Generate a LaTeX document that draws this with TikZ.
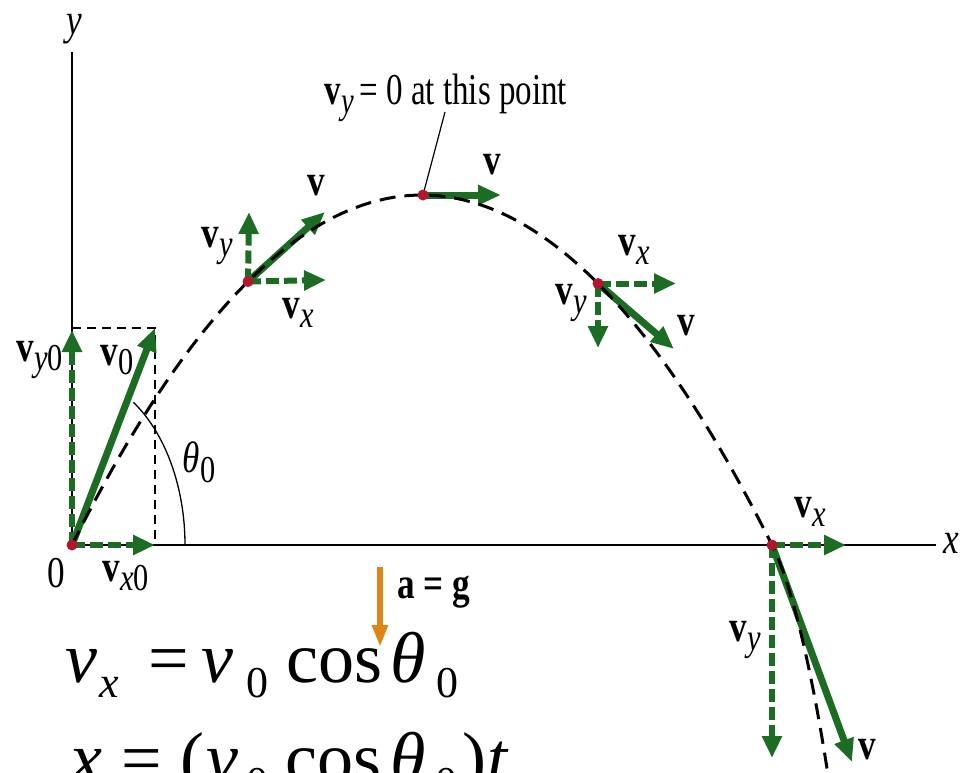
\documentclass[tikz,border=0pt]{standalone}
\usepackage{fontspec}
\setmainfont{Liberation Serif}
\usepackage{graphicx}
\usetikzlibrary{arrows.meta}
\definecolor{vgreen}{RGB}{28,108,36}
\definecolor{dotred}{RGB}{180,22,45}
\definecolor{agold}{RGB}{222,133,22}
\newcommand\labfont{\fontsize{44}{44}\selectfont}
\newcommand\eqfont{\fontsize{72}{72}\selectfont}
\newcommand\eqsub{\fontsize{44}{44}\selectfont}
\newcommand\cnd[1]{\scalebox{0.8}[1]{#1}}
\newcommand\vb{\textbf{v}}
\newcommand\sbx[1]{\raisebox{-0.22em}{\fontsize{38}{38}\selectfont #1}}
\tikzset{
  lab/.style={font=\labfont, inner sep=0pt},
  eq/.style={font=\eqfont, inner sep=0pt, anchor=base west},
  eqs/.style={font=\eqsub, inner sep=0pt, anchor=base west},
  axisline/.style={line width=2pt, black},
  vsolid/.style={vgreen, line width=7pt, -{Triangle[length=23pt,width=19pt]}},
  vdash/.style={vgreen, line width=6pt, dash pattern=on 13pt off 5pt, -{Triangle[length=22pt,width=19pt]}},
  traj/.style={black, line width=3pt, dash pattern=on 16pt off 9pt},
  guide/.style={black, line width=1.6pt, dash pattern=on 9pt off 6pt},
  dotp/.style={fill=dotred},
}
\begin{document}
\begin{tikzpicture}[x=1pt,y=-1pt]
\useasboundingbox (0,0) rectangle (966,772);
\clip (0,0) rectangle (966,772);
% key points
\coordinate (O) at (72,545);
\coordinate (ytop) at (72,52);
\coordinate (xend) at (936,545);
\coordinate (P2) at (248,281.5);
\coordinate (P3) at (423,195);
\coordinate (P4) at (598,283.5);
\coordinate (P5) at (772,545);
\coordinate (Q) at (828,775);
% axes
\draw[axisline] (O) -- (ytop);
\draw[axisline] (O) -- (xend);
\node[lab] (ylab) at (74,29) {\cnd{\itshape y}};
\node[lab] (xlab) at (951,543) {\cnd{\itshape x}};
\node[lab] (olab) at (56,573) {\cnd{0}};
% initial velocity construction
\coordinate (v0tip) at (155,328);
\coordinate (vy0tip) at (72,330);
\coordinate (vx0tip) at (155,545);
\coordinate (rc) at (72,328);
\draw[guide] (rc) -- (v0tip) -- (vx0tip);
\draw[black, line width=1.3pt] (185,545) arc[start angle=0, end angle=57, x radius=113pt, y radius=170pt];
\draw[vdash] (O) -- (vy0tip);
\draw[vdash] (O) -- (vx0tip);
\draw[vsolid] (O) -- (v0tip);
\node[lab] (vy0lab) at (40,360) {\cnd{\vb\sbx{\textit{y}0}}};
\node[lab] (v0lab) at (117,360) {\cnd{\vb\sbx{0}}};
\node[lab] (vx0lab) at (126,576) {\cnd{\vb\sbx{\textit{x}0}}};
\node[lab] (thlab) at (199,462) {\cnd{\textit{θ}\sbx{0}}};
% point 2
\coordinate (P2v) at (325,212);
\coordinate (P2y) at (249,212);
\coordinate (P2x) at (326,280);
\draw[vdash] (P2) -- (P2y);
\draw[vdash] (P2) -- (P2x);
\draw[vsolid] (P2) -- (P2v);
\node[lab] (p2v) at (316,186) {\cnd{\vb}};
\node[lab] (p2y) at (217,246) {\cnd{\vb\sbx{\textit{y}}}};
\node[lab] (p2x) at (298,313) {\cnd{\vb\sbx{\textit{x}}}};
% apex
\coordinate (P3v) at (501,195);
\coordinate (lead) at (445,112);
\draw[vsolid] (P3) -- (P3v);
\node[lab] (p3v) at (492,165) {\cnd{\vb}};
\draw[black, line width=1.2pt] (P3) -- (lead);
\node[lab, anchor=base] (note) at (446,104) {\scalebox{0.75}[1]{\vb\sbx{\textit{y}}\,= 0 at this point}};
% point 4
\coordinate (P4x) at (676,283.5);
\coordinate (P4y) at (598,348);
\coordinate (P4v) at (674,349);
\draw[vdash] (P4) -- (P4x);
\draw[vdash] (P4) -- (P4y);
\draw[vsolid] (P4) -- (P4v);
\node[lab] (p4x) at (634,250) {\cnd{\vb\sbx{\textit{x}}}};
\node[lab] (p4y) at (571,303) {\cnd{\vb\sbx{\textit{y}}}};
\node[lab] (p4v) at (686,326) {\cnd{\vb}};
% point 5
\coordinate (P5x) at (846,545);
\coordinate (P5y) at (772,758);
\coordinate (P5v) at (852,762);
\draw[vdash] (P5) -- (P5x);
\draw[vdash] (P5) -- (P5y);
\draw[vsolid] (P5) -- (P5v);
\node[lab] (p5x) at (810,512) {\cnd{\vb\sbx{\textit{x}}}};
\node[lab] (p5y) at (745,640) {\cnd{\vb\sbx{\textit{y}}}};
\node[lab] (p5v) at (867,750) {\cnd{\vb}};
% trajectory
\draw[traj] plot[domain=72:772, samples=90] (\x,{545-350*(1-((\x-422)/350)^2)})
  .. controls (795,591) and (815,690) .. (Q);
% dots
\foreach \p in {O,P2,P3,P4,P5} \fill[dotp] (\p) circle (5.5pt);
% acceleration
\coordinate (atop) at (380,567);
\coordinate (abot) at (380,647);
\draw[agold, line width=6pt, -{Triangle[length=22pt,width=15pt]}] (atop) -- (abot);
\node[lab] (alab) at (434,592) {\cnd{\textbf{a = g}}};
% equations line 1
\node[eq] (e1v) at (65,682) {\itshape v};
\node[eqs] (e1x) at (99,697) {\itshape x};
\node[eq] (e1eq) at (148,682) {=};
\node[eq] (e1v0) at (201,682) {\itshape v};
\node[eqs] (e1z) at (246,697) {0};
\node[eq] (e1cos) at (286,682) {cos};
\node[eq] (e1th) at (390,682) {\itshape θ};
\node[eqs] (e1z2) at (436,697) {0};
% equations line 2
\node[eq] (e2x) at (70,782) {\itshape x};
\node[eq] (e2eq) at (121,782) {=};
\node[eq] (e2p) at (180,782) {(};
\node[eq] (e2v) at (206,782) {\itshape v};
\node[eqs] (e2z) at (246,797) {0};
\node[eq] (e2cos) at (285,782) {cos};
\node[eq] (e2th) at (390,782) {\itshape θ};
\node[eqs] (e2z2) at (435,797) {0};
\node[eq] (e2q) at (462,782) {)};
\node[eq] (e2t) at (487,782) {\itshape t};
\end{tikzpicture}
\end{document}
